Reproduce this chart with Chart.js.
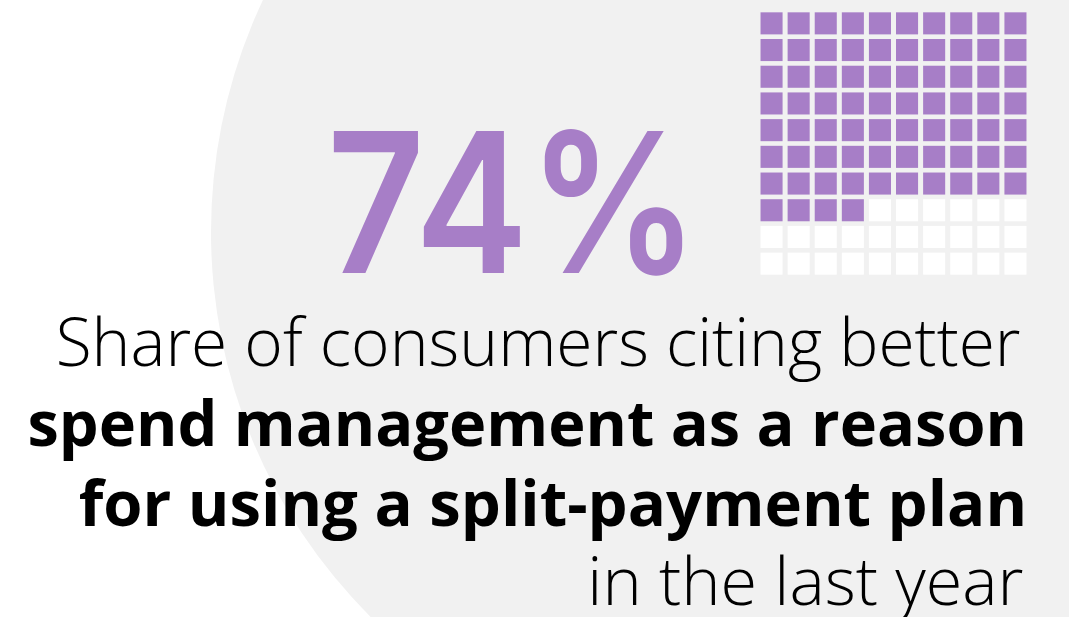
<!DOCTYPE html>
<html>
<head>
<meta charset="utf-8">
<script src="https://cdn.jsdelivr.net/npm/chart.js@4.4.1/dist/chart.umd.min.js"></script>
<style>
html, body { margin: 0; padding: 0; width: 1069px; height: 617px; overflow: hidden; background: #fff; }
#disc { position: absolute; left: 211px; top: -312px; width: 1088px; height: 1088px; border-radius: 50%; background: #f1f1f1; }
#waffle { position: absolute; left: 758px; top: 10px; }
.txt { position: absolute; left: 0; top: 0; white-space: nowrap; color: #000; }
#big { color: #a77ec7; transform-origin: 0 0; }
</style>
</head>
<body>
<div id="disc"></div>
<canvas id="waffle" width="271" height="267"></canvas>
<div class="txt" id="big"></div>
<div class="txt" id="l1">Share of consumers citing better</div>
<div class="txt" id="l2">spend management as a reason</div>
<div class="txt" id="l3">for using a split-payment plan</div>
<div class="txt" id="l4">in the last year</div>
<script>
// share of consumers, in percent
var share = [74];
// waffle grid: 10 x 10 cells, one per percent
var gridCols = [0, 1, 2, 3, 4, 5, 6, 7, 8, 9];
var gridRows = [0, 1, 2, 3, 4, 5, 6, 7, 8, 9];

var PURPLE = '#a77ec7';
var EMPTY = '#ffffff';

// 圖表 waffle
function initWaffle(){
    var cells = [];
    var colors = [];
    gridRows.forEach(function(r){
        gridCols.forEach(function(c){
            cells.push({x: c, y: r});
            colors.push(r * gridCols.length + c < share[0] ? PURPLE : EMPTY);
        });
    });
    var waffle = document.getElementById('waffle');
    var myChart = new Chart(waffle, {
        type: 'scatter',
        data: {
            datasets: [{
                data: cells,
                pointStyle: 'rect',
                pointRadius: 15.6,
                pointHoverRadius: 15.6,
                pointBackgroundColor: colors,
                pointBorderWidth: 0,
                pointHoverBorderWidth: 0
            }]
        },
        options: {
            responsive: false,
            animation: false,
            events: [],
            layout: { padding: 0, autoPadding: false },
            plugins: {
                legend: { display: false },
                tooltip: { enabled: false }
            },
            scales: {
                x: { type: 'linear', min: -0.5, max: 9.5, display: false },
                y: { type: 'linear', min: -0.5, max: 9.5, reverse: true, display: false }
            }
        }
    });
};

// 文字 text lines, sized to their ink box
var mctx = document.createElement('canvas').getContext('2d');

function baselineOf(el){
    var mark = document.createElement('span');
    mark.style.display = 'inline-block';
    mark.style.width = '0';
    mark.style.height = '0';
    el.appendChild(mark);
    var y = mark.getBoundingClientRect().top - el.getBoundingClientRect().top;
    el.removeChild(mark);
    return y;
}

function placeLine(id, weight, family, left, right, baseline){
    var el = document.getElementById(id);
    mctx.font = weight + ' 100px ' + family;
    var m = mctx.measureText(el.textContent);
    var ink = m.actualBoundingBoxLeft + m.actualBoundingBoxRight;
    var size = 100 * (right - left) / ink;
    el.style.font = weight + ' ' + size + 'px ' + family;
    el.style.lineHeight = '0.7';
    el.style.left = (left + m.actualBoundingBoxLeft * size / 100) + 'px';
    el.style.top = (baseline - baselineOf(el)) + 'px';
}

function placeBig(){
    var el = document.getElementById('big');
    el.textContent = share[0] + '%';
    var weight = 600, family = 'Inter, "Open Sans", sans-serif';
    mctx.font = weight + ' 100px ' + family;
    var seven = mctx.measureText('7');
    var size = 100 * 142 / seven.actualBoundingBoxAscent;
    var m = mctx.measureText(el.textContent);
    var ink = (m.actualBoundingBoxLeft + m.actualBoundingBoxRight) * size / 100;
    var sx = (683 - 334) / ink;
    el.style.font = weight + ' ' + size + 'px ' + family;
    el.style.lineHeight = '0.75';
    var base = baselineOf(el);
    el.style.left = (334 + m.actualBoundingBoxLeft * size / 100 * sx) + 'px';
    el.style.top = (273 - base) + 'px';
    el.style.transform = 'scaleX(' + sx + ')';
}

function initText(){
    var light = '"Open Sans", Lato, sans-serif';
    var bold = '"Open Sans", Lato, sans-serif';
    placeBig();
    placeLine('l1', 300, light, 59, 1020, 366);
    placeLine('l2', 700, bold, 30, 1023, 446);
    placeLine('l3', 700, bold, 80, 1023, 526);
    placeLine('l4', 300, light, 592, 1023, 605);
};

initWaffle();
initText();
</script>
</body>
</html>
